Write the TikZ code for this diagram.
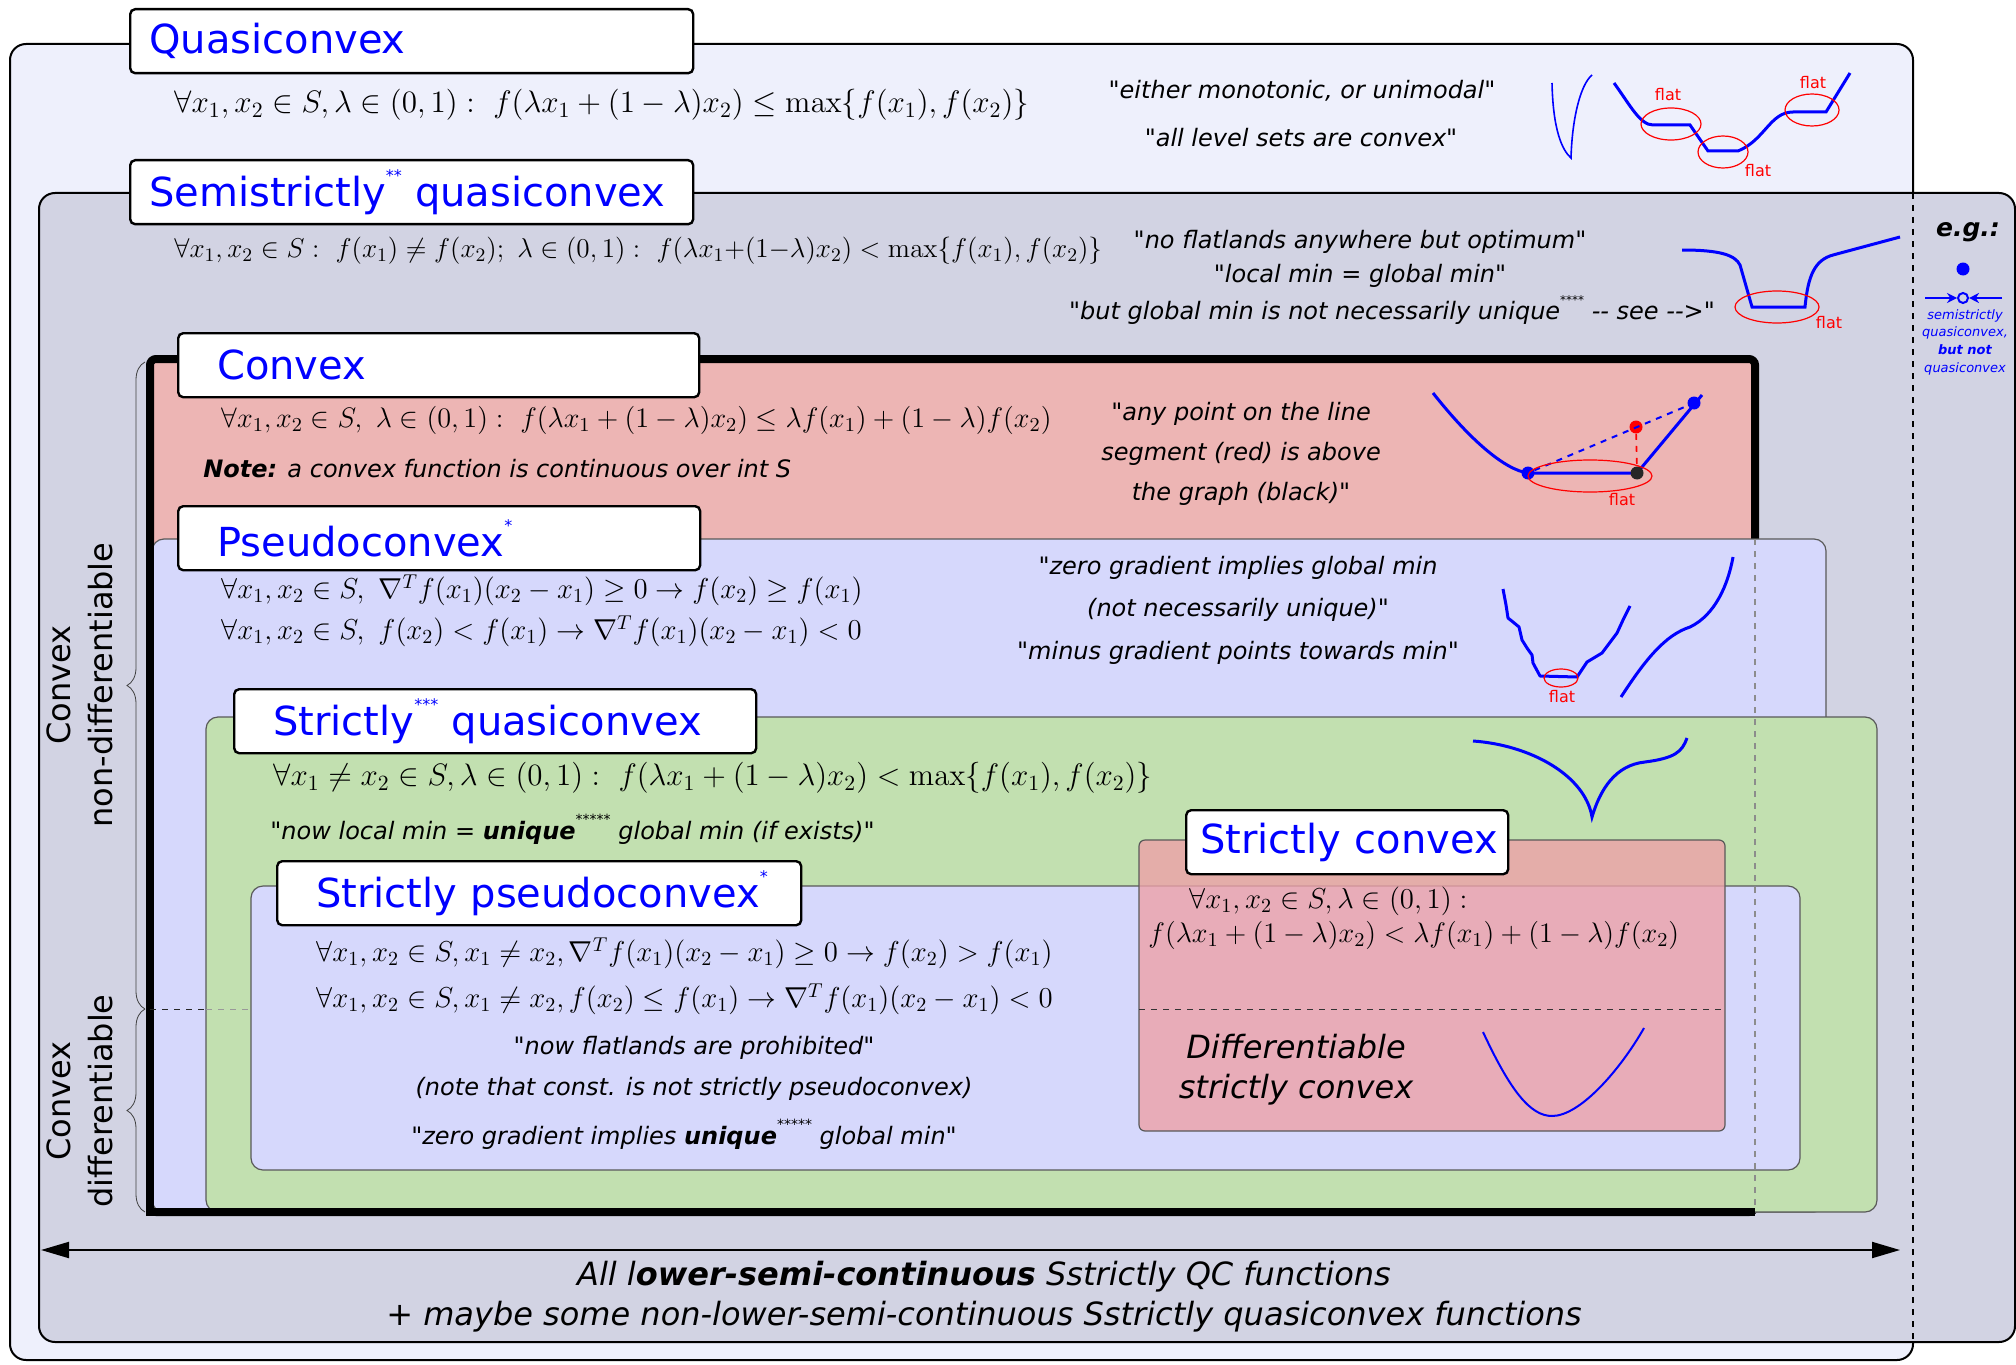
\RequirePackage{fix-cm}
\documentclass[tikz,border=0pt]{standalone}
\usepackage[no-math]{fontspec}
\setmainfont{DejaVu Sans}[Ligatures=TeXOff]
\usetikzlibrary{positioning,arrows.meta,decorations.pathreplacing}

\definecolor{qcfill}{RGB}{238,240,252}
\definecolor{ssfill}{RGB}{210,211,227}
\definecolor{cvfill}{RGB}{237,181,180}
\definecolor{pcfill}{RGB}{214,216,252}
\definecolor{sqfill}{RGB}{194,224,176}
\definecolor{scfill}{RGB}{237,161,168}

\newcommand{\stars}[2][8]{\raisebox{0.62em}{\fontsize{#1}{#1}\selectfont#2}}

\begin{document}
\begin{tikzpicture}[
  x=0.5pt, y=-0.5pt,
  every node/.style={align=center},
  outer/.style  ={draw=black, line width=1pt, rounded corners=8pt},
  inner/.style  ={draw=black!65, line width=0.6pt, rounded corners=6pt},
  head/.style   ={draw, fill=white, line width=1.2pt, rounded corners=2.5pt, anchor=north west,
                  inner xsep=19.5pt, minimum height=32pt, align=left, text=blue,
                  font=\fontsize{20}{24}\selectfont},
  formula/.style={anchor=west, inner sep=0pt, font=\fontsize{14.4}{17}\selectfont},
  quote/.style  ={inner sep=0pt, font=\fontsize{12}{20}\selectfont\itshape},
  flatlbl/.style={inner sep=0pt, text=red, font=\fontsize{8}{9}\selectfont},
  ring/.style   ={draw=red, line width=0.6pt},
  curve/.style  ={draw=blue, line width=1.5pt},
  dot/.style    ={circle, inner sep=0pt, minimum size=6.5pt},
  side/.style   ={rotate=90, font=\fontsize{16}{21}\selectfont},
  rangearrow/.style={line width=1pt, {Triangle[length=14pt,width=8pt]}-{Triangle[length=14pt,width=8pt]}},
]
\useasboundingbox (0,0) rectangle (2016,1364);

% nested regions
\path[outer, fill=qcfill] (10,44) rectangle (1913,1360);
\path[outer, fill=ssfill] (39,193) rectangle (2015,1342);
\draw[line width=1pt, dashed] (1913,193) -- (1913,1342);
\path[draw, fill=cvfill, line width=4pt, rounded corners=3pt] (150,359) rectangle (1755,1212);
\path[inner, fill=pcfill] (152,539) rectangle (1826,1212);
\path[inner, fill=sqfill] (206,717) rectangle (1877,1212);
\path[inner, fill=pcfill] (251,886) rectangle (1800,1170);
\path[inner, fill=scfill, fill opacity=0.8, rounded corners=3pt] (1139,840) rectangle (1725,1131);
\draw[line width=4pt] (150,530) -- (150,1212) -- (1755,1212);
\draw[black!45, line width=1pt, dashed] (1755,539) -- (1755,1208);
\draw[black!85, dashed] (150,1009) -- (206,1009);
\draw[black!40, dashed] (206,1009) -- (251,1009);
\draw[black!80, dashed] (1139,1009) -- (1725,1009);

% braces on the left
\draw[black!75, decorate, decoration={brace, amplitude=9pt}] (145,1009) -- (145,362);
\draw[black!75, decorate, decoration={brace, amplitude=9pt}] (145,1212) -- (145,1009);
\node[side] (nondiff) at (80,685) {Convex\\non-differentiable};
\node[side] (diffl) at (80,1101) {Convex\\differentiable};

% headers
\node[head, inner xsep=9.5pt, text width=262.5pt] (qchead) at (129,8) {\mbox{Quasiconvex}};
\node[head, inner xsep=9.5pt, text width=262.5pt] (sshead) at (129,159)
  {\mbox{Semistrictly\stars{**} quasiconvex}};
\node[head, text width=221.5pt] (cvhead) at (177,332) {\mbox{Convex}};
\node[head, text width=222pt] (pchead) at (177,505) {\mbox{Pseudoconvex\stars{*}}};
\node[head, text width=222pt] (sqhead) at (233,688) {\mbox{Strictly\stars{***} quasiconvex}};
\node[head, text width=223pt] (sphead) at (276,860) {\mbox{Strictly pseudoconvex\stars{*}}};
\node[head, inner xsep=7pt, text width=147pt] (schead) at (1185,809) {\mbox{Strictly convex}};

% definitions
\node[formula, font=\fontsize{15.55}{19}\selectfont] (qcdef) at (174,105)
  {$\forall x_1,x_2\in S,\lambda\in(0,1):\ f(\lambda x_1+(1-\lambda)x_2)\leq\max\{f(x_1),f(x_2)\}$};
\node[formula, font=\fontsize{13.6}{16}\selectfont] (ssdef) at (174,251)
  {$\forall x_1,x_2\in S:\ f(x_1)\neq f(x_2);\ \lambda\in(0,1):\ f(\lambda x_1{+}(1{-}\lambda)x_2)<\max\{f(x_1),f(x_2)\}$};
\node[formula, font=\fontsize{14.1}{17}\selectfont] (cvdef) at (221,420)
  {$\forall x_1,x_2\in S,\ \lambda\in(0,1):\ f(\lambda x_1+(1-\lambda)x_2)\leq\lambda f(x_1)+(1-\lambda)f(x_2)$};
\node[quote, anchor=west] (cvnote) at (203,469)
  {\textbf{Note:} a convex function is continuous over int S};
\node[formula] (pcdef1) at (221,590)
  {$\forall x_1,x_2\in S,\ \nabla^T f(x_1)(x_2-x_1)\geq 0\rightarrow f(x_2)\geq f(x_1)$};
\node[formula] (pcdef2) at (221,631)
  {$\forall x_1,x_2\in S,\ f(x_2)<f(x_1)\rightarrow\nabla^T f(x_1)(x_2-x_1)<0$};
\node[formula, font=\fontsize{15.5}{19}\selectfont] (sqdef) at (273,778)
  {$\forall x_1\neq x_2\in S,\lambda\in(0,1):\ f(\lambda x_1+(1-\lambda)x_2)<\max\{f(x_1),f(x_2)\}$};
\node[quote, anchor=west] (sqq) at (270,829)
  {"now local min = \textbf{unique}\stars[7]{*****} global min (if exists)"};
\node[formula] (spdef1) at (316,953)
  {$\forall x_1,x_2\in S,x_1\neq x_2,\nabla^T f(x_1)(x_2-x_1)\geq 0\rightarrow f(x_2)>f(x_1)$};
\node[formula] (spdef2) at (316,999)
  {$\forall x_1,x_2\in S,x_1\neq x_2,f(x_2)\leq f(x_1)\rightarrow\nabla^T f(x_1)(x_2-x_1)<0$};
\node[formula] (scdef1) at (1189,901) {$\forall x_1,x_2\in S,\lambda\in(0,1):$};
\node[formula, font=\fontsize{14.1}{17}\selectfont] (scdef2) at (1148,935)
  {$f(\lambda x_1+(1-\lambda)x_2)<\lambda f(x_1)+(1-\lambda)f(x_2)$};

% quotes
\node[quote] (qcq1) at (1302,91) {"either monotonic, or unimodal"};
\node[quote] (qcq2) at (1301,138) {"all level sets are convex"};
\node[quote] (ssq1) at (1360,242) {"no flatlands anywhere but optimum"};
\node[quote] (ssq2) at (1360,276) {"local min = global min"};
\node[quote] (ssq3) at (1392,310)
  {"but global min is not necessarily unique\stars[6]{****} -- see -->"};
\node[quote] (cvq) at (1241,454) {"any point on the line\\segment (red) is above\\the graph (black)"};
\node[quote, font=\fontsize{12}{21.2}\selectfont\itshape] (pcq) at (1238,610)
  {"zero gradient implies global min\\(not necessarily unique)"\\"minus gradient points towards min"};
\node[quote] (spq1) at (694,1048) {"now flatlands are prohibited"};
\node[quote] (spq2) at (694,1089) {(note that const. is not strictly pseudoconvex)};
\node[quote] (spq3) at (684,1134) {"zero gradient implies \textbf{unique}\stars[7]{*****} global min"};
\node[quote, font=\fontsize{16}{20}\selectfont\itshape] (scdiff) at (1296,1070)
  {Differentiable\\strictly convex};

% quasiconvex sketches
\draw[blue, line width=0.8pt] (1552,83) .. controls (1553,130) and (1562,150) .. (1571,158)
  .. controls (1572,120) and (1580,85) .. (1592,75);
\draw[curve] (1614,83) .. controls (1630,105) and (1640,125) .. (1653,125) -- (1690,125)
  -- (1708,151) -- (1738,151) .. controls (1765,140) and (1770,112) .. (1793,112)
  -- (1826,112) -- (1850,73);
\draw[ring] (1671,124) ellipse [x radius=30, y radius=16];
\draw[ring] (1723,152) ellipse [x radius=25, y radius=16];
\draw[ring] (1812,110) ellipse [x radius=27, y radius=16];
\node[flatlbl] (qcf1) at (1668,95) {flat};
\node[flatlbl] (qcf2) at (1758,171) {flat};
\node[flatlbl] (qcf3) at (1813,83) {flat};

% semistrictly sketch
\draw[curve] (1682,250) .. controls (1720,250) and (1735,255) .. (1740,265) -- (1752,307)
  -- (1805,307) .. controls (1808,275) and (1815,260) .. (1833,255) -- (1900,237);
\draw[ring] (1777,307) ellipse [x radius=42, y radius=16];
\node[flatlbl] (ssf) at (1829,323) {flat};

% e.g.
\node[font=\fontsize{12.5}{14}\selectfont\bfseries\itshape] (eg) at (1968,232) {e.g.:};
\node[dot, fill=blue] (egd) at (1963,269) {};
\node[dot, draw=blue, fill=ssfill, line width=1pt, minimum size=5pt] (egc) at (1963,298) {};
\coordinate (egL) at (1925,298);
\coordinate (egR) at (2002,298);
\draw[blue, line width=1pt, -{Stealth[length=5pt,width=5pt]}] (egL) -- (egc);
\draw[blue, line width=1pt, -{Stealth[length=5pt,width=5pt]}] (egR) -- (egc);
\node[anchor=north, inner sep=0pt, text=blue, font=\fontsize{6.5}{8.8}\selectfont\itshape] (egtxt)
  at (1965,309) {semistrictly\\quasiconvex,\\\textbf{but not}\\quasiconvex};

% convex sketch
\draw[curve] (1433,393) .. controls (1470,440) and (1505,470) .. (1528,473) -- (1637,473) -- (1702,395);
\node[dot, fill=blue] (ca) at (1528,473) {};
\node[dot, fill=blue] (cb) at (1694,403) {};
\node[dot, fill=black!85] (cm) at (1637,473) {};
\node[dot, fill=red] (cr) at (1636,427) {};
\draw[blue, line width=1pt, dashed] (ca) -- (cb);
\draw[red, line width=0.8pt, dashed] (cr) -- (cm);
\draw[ring] (1590,476) ellipse [x radius=62, y radius=16];
\node[flatlbl] (cvf) at (1622,500) {flat};

% pseudoconvex sketches
\draw[curve, line join=round] (1503,589) -- (1506,605) -- (1508,618) -- (1513,622) -- (1519,627)
  -- (1522,640) -- (1527,648) -- (1532,655) -- (1533,663) -- (1540,676) -- (1577,677)
  -- (1587,662) -- (1602,653) -- (1617,633) -- (1623,620) -- (1630,606);
\draw[ring] (1561,678) ellipse [x radius=17, y radius=9];
\node[flatlbl] (pcf) at (1562,697) {flat};
\draw[curve] (1621,697) .. controls (1645,660) and (1665,635) .. (1690,627)
  .. controls (1715,615) and (1728,585) .. (1733,557);

% strictly quasiconvex sketch
\draw[curve] (1473,741) .. controls (1530,745) and (1585,775) .. (1592,817)
  .. controls (1600,790) and (1615,765) .. (1645,762) .. controls (1675,758) and (1682,752) .. (1687,738);

% strictly convex sketch
\draw[blue, line width=1pt] (1483,1032) .. controls (1510,1090) and (1530,1116) .. (1552,1116)
  .. controls (1580,1116) and (1620,1070) .. (1644,1028);

% bottom range
\coordinate (allL) at (41,1250);
\coordinate (allR) at (1900,1250);
\draw[rangearrow] (allL) -- (allR);
\node[quote, font=\fontsize{16}{20}\selectfont\itshape] (alltxt1) at (984,1277)
  {All l\textbf{ower-semi-continuous} Sstrictly QC functions};
\node[quote, font=\fontsize{16}{20}\selectfont\itshape] (alltxt2) at (984,1317)
  {+ maybe some non-lower-semi-continuous Sstrictly quasiconvex functions};

\end{tikzpicture}
\end{document}
